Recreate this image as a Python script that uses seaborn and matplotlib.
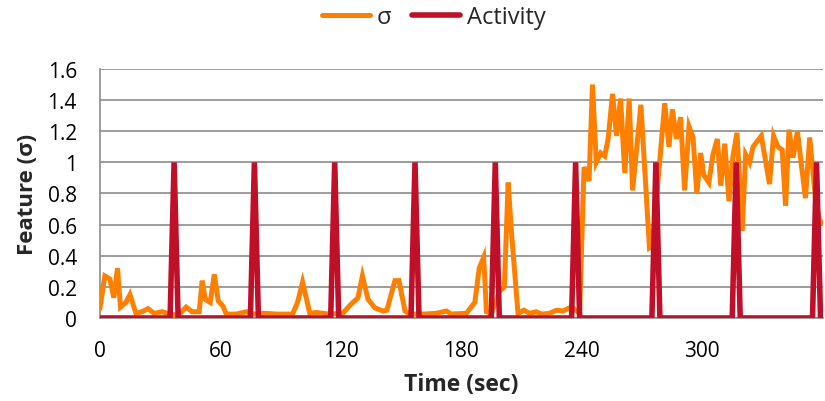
import numpy as np
import pandas as pd
import matplotlib
matplotlib.use("Agg")
import matplotlib.pyplot as plt
import seaborn as sns

# sigma feature (time in sec, value)
sigma_t = [0, 2.5, 5, 7, 8.8, 10.3, 13, 15, 18, 21, 24, 27, 31, 35, 38, 40, 43, 46,
           49.5, 51, 52.5, 55, 57, 59, 61.4, 63, 68, 73, 77, 82, 88, 96, 98.5, 101,
           104.6, 108, 114.5, 121, 124.5, 128.6, 130.8, 133.6, 137, 141, 143, 147,
           149, 152, 154.4, 161, 167.6, 172.6, 175, 182.6, 186.8, 189, 191.2, 192.6,
           195, 199, 201.5, 203.4, 205, 208.3, 211.2, 214, 217.4, 220, 224, 227.4,
           230.7, 234, 236, 239, 241.2, 243.7, 245.4, 247.3, 249.5, 251.5, 253.2,
           255.4, 257.4, 259.4, 261.5, 263.7, 265.4, 269.5, 273.8, 275.2, 281.4,
           283.5, 285.2, 287.2, 289.3, 291.3, 293.5, 295.5, 297.4, 299.3, 300.8,
           303.4, 305.4, 307.6, 309.3, 311.3, 313.4, 315.4, 317.4, 320, 321.7,
           323.7, 325.4, 329.5, 332, 333.6, 335.6, 337.8, 339.9, 341.6, 343.3,
           345.3, 347.5, 349.5, 351.5, 353.6, 356.6, 358.6, 360]
sigma_v = [0.06, 0.27, 0.25, 0.13, 0.32, 0.07, 0.1, 0.15, 0.03, 0.04, 0.06, 0.03, 0.04,
           0.025, 0.02, 0.03, 0.07, 0.04, 0.04, 0.24, 0.12, 0.1, 0.28, 0.11, 0.075,
           0.025, 0.025, 0.04, 0.025, 0.03, 0.025, 0.025, 0.1, 0.23, 0.03, 0.035,
           0.025, 0.03, 0.08, 0.13, 0.27, 0.12, 0.065, 0.045, 0.05, 0.24, 0.24,
           0.045, 0.025, 0.025, 0.03, 0.045, 0.025, 0.03, 0.1, 0.32, 0.39, 0.04,
           0.03, 0.17, 0.2, 0.87, 0.56, 0.03, 0.05, 0.03, 0.04, 0.025, 0.03, 0.05,
           0.045, 0.065, 0.06, 0.03, 0.97, 0.88, 1.5, 1.0, 1.06, 1.04, 1.15, 1.44,
           1.17, 1.41, 0.93, 1.41, 0.82, 1.37, 0.45, 0.46, 1.38, 1.1, 1.34, 1.15,
           1.29, 0.82, 1.23, 1.16, 0.8, 1.06, 0.92, 0.87, 1.05, 1.15, 0.85, 1.12,
           0.75, 1.04, 1.19, 0.56, 1.05, 1.0, 1.1, 1.17, 0.98, 0.86, 1.17, 1.1,
           1.08, 0.72, 1.21, 1.03, 1.2, 0.98, 0.77, 1.16, 0.75, 0.62, 0.61]

# activity pulses (sec)
spike_times = [37, 77, 117, 157, 197, 237, 277, 317, 357]

x_ticks = [0, 60, 120, 180, 240, 300]
y_ticks = [0, 0.2, 0.4, 0.6, 0.8, 1, 1.2, 1.4, 1.6]
y_labels = ["0", "0.2", "0.4", "0.6", "0.8", "1", "1.2", "1.4", "1.6"]

# build activity line: 0 baseline with a triangular pulse at each spike
act_t, act_v = [0], [0]
for s in spike_times:
    act_t += [s - 2, s, s + 2]
    act_v += [0, 1, 0]
act_t.append(360)
act_v.append(0)

sig_df = pd.DataFrame({"t": sigma_t, "v": sigma_v})
act_df = pd.DataFrame({"t": act_t, "v": act_v})

sns.set_style("white")
plt.rcParams["font.family"] = ["Open Sans", "DejaVu Sans"]

fig = plt.figure(figsize=(8.25, 4.02), dpi=100)
ax = fig.add_axes([0.121, 0.2065, 0.876, 0.6195])

orange = "#FF8000"
red = "#C00F28"
sns.lineplot(data=sig_df, x="t", y="v", ax=ax, color=orange, lw=3.6,
             label="σ", zorder=3, solid_joinstyle="miter")
sns.lineplot(data=act_df, x="t", y="v", ax=ax, color=red, lw=4.0,
             label="Activity", zorder=4, solid_joinstyle="miter")

ax.set_xlim(0, 360)
ax.set_ylim(0, 1.6)
ax.set_yticks(y_ticks)
ax.set_yticklabels(y_labels)
ax.set_xticks(x_ticks)
ax.set_xticks([0, 120, 240, 360], minor=True)
ax.tick_params(axis="x", which="major", length=0, labelsize=15, pad=16, colors="black")
ax.tick_params(axis="x", which="minor", length=5.5, width=1.2, color="#8c8c8c")
ax.tick_params(axis="y", length=5.5, width=1.2, color="#8c8c8c", labelsize=15,
               labelcolor="black", pad=11)
ax.grid(axis="y", color="#8c8c8c", lw=1.2)
ax.set_axisbelow(True)
for side in ["top", "right"]:
    ax.spines[side].set_visible(False)
ax.spines["left"].set_color("#8c8c8c")
ax.spines["left"].set_linewidth(1.2)
ax.spines["bottom"].set_color("#8c8c8c")
ax.spines["bottom"].set_linewidth(1.2)

ax.set_xlabel("Time (sec)", fontsize=16.5, fontweight="bold", labelpad=8)
ax.set_ylabel("Feature (σ)", fontsize=16, fontweight="bold", labelpad=7)

ax.legend(loc="center", bbox_to_anchor=(0.526, 0.955), bbox_transform=fig.transFigure,
          ncol=2, frameon=False, fontsize=17, handlelength=2.0, handletextpad=0.3,
          columnspacing=0.9)

fig.savefig("out.png", dpi=100)
